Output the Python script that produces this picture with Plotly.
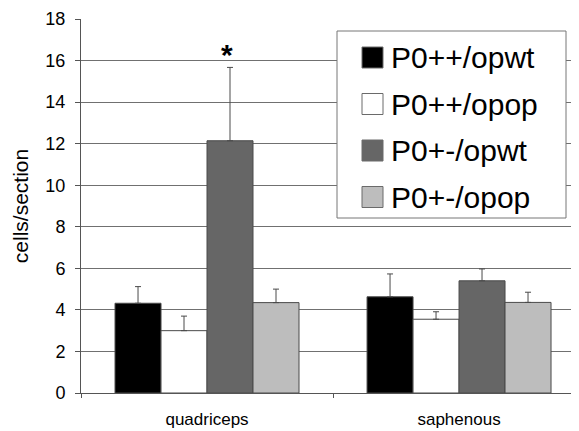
import plotly.graph_objects as go

categories = ["quadriceps", "saphenous"]
series_names = ["P0++/opwt", "P0++/opop", "P0+-/opwt", "P0+-/opop"]
series_colors = ["#000000", "#ffffff", "#666666", "#bdbdbd"]
values = [
    [4.32, 4.63],
    [3.00, 3.55],
    [12.14, 5.40],
    [4.35, 4.36],
]
errors = [
    [0.80, 1.10],
    [0.70, 0.36],
    [3.53, 0.57],
    [0.65, 0.49],
]
y_ticks = [0, 2, 4, 6, 8, 10, 12, 14, 16, 18]
star_label = "<b>*</b>"

OFF = 8  # default page body margin
W, H = 579 - OFF, 431 - OFF
L, R, T, B = 81 - OFF, 0, 19 - OFF, 38
PW, PH = W - L - R, H - T - B
FONT = "Arial, Liberation Sans, Helvetica, sans-serif"


def px_x(p):
    return (p - OFF - L) / PW


def px_y(p):
    return (H - B - (p - OFF)) / PH


fig = go.Figure()
for name, col, v, e in zip(series_names, series_colors, values, errors):
    fig.add_trace(go.Bar(
        x=categories, y=v, name=name, showlegend=False,
        marker=dict(color=col, line=dict(color="#4a4a4a", width=1)),
        error_y=dict(type="data", array=e, arrayminus=[0] * len(e), symmetric=False,
                     color="#4a4a4a", thickness=1, width=3),
    ))

shapes = []
annotations = []
shapes.append(dict(type="rect", xref="paper", yref="paper",
                   x0=px_x(337), x1=px_x(566), y0=px_y(218), y1=px_y(31),
                   fillcolor="#ffffff", line=dict(color="#777777", width=1), layer="above"))
centers = [57.5, 104, 150.5, 197]
for name, col, cy in zip(series_names, series_colors, centers):
    shapes.append(dict(type="rect", xref="paper", yref="paper",
                       x0=px_x(362), x1=px_x(383), y0=px_y(cy + 10.5), y1=px_y(cy - 10.5),
                       fillcolor=col, line=dict(color="#6a6a6a", width=1), layer="above"))
    annotations.append(dict(xref="paper", yref="paper", x=px_x(389), y=px_y(cy),
                            xanchor="left", yanchor="middle", text=name, showarrow=False,
                            font=dict(family=FONT, size=30, color="#000000")))

annotations.append(dict(xref="x", yref="y", x=0, xshift=20, y=16.3, text=star_label,
                        showarrow=False, xanchor="center", yanchor="middle",
                        font=dict(family=FONT, size=30, color="#000000")))

fig.update_layout(
    width=W, height=H,
    margin=dict(l=L, r=R, t=T, b=B, pad=0),
    paper_bgcolor="#ffffff", plot_bgcolor="#ffffff",
    barmode="group", bargap=0.27, bargroupgap=0,
    font=dict(family=FONT, color="#000000"),
    shapes=shapes, annotations=annotations,
    xaxis=dict(range=[-0.5, 1.476], showgrid=False, showline=True, linecolor="#555555",
               linewidth=1, ticks="outside", tickson="boundaries", ticklen=4,
               tickcolor="#555555", tickfont=dict(size=17, family=FONT), zeroline=False,
               ticklabelstandoff=11),
    yaxis=dict(range=[0, 18], tickvals=y_ticks, showgrid=True, gridcolor="#707070",
               gridwidth=1, showline=True, linecolor="#555555", linewidth=1,
               ticks="outside", ticklen=5, tickcolor="#555555", zeroline=False,
               tickfont=dict(size=18, family=FONT), ticklabelstandoff=6,
               title=dict(text="cells/section", font=dict(size=21, family=FONT), standoff=11)),
)

fig.write_html("out.html")
